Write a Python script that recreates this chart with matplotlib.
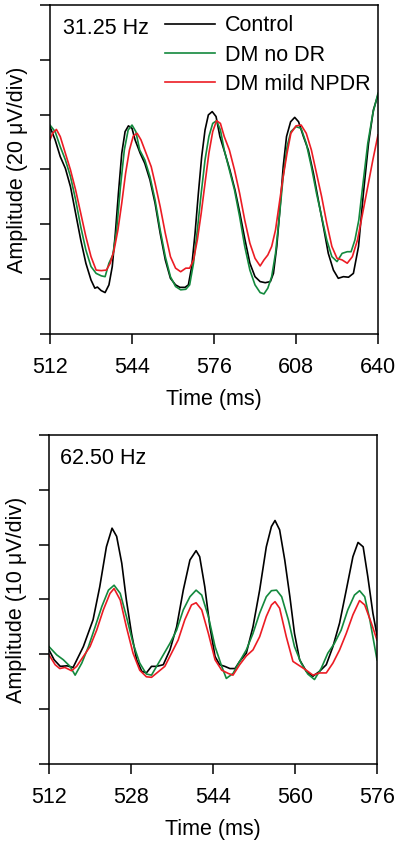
import matplotlib

matplotlib.use("Agg")
import matplotlib.pyplot as plt

plt.rcParams["font.family"] = ["Liberation Sans", "DejaVu Sans"]

BLACK = "#000000"
GREEN = "#13893d"
RED = "#ec1c24"
FS = 15.5

# ---------------- 31.25 Hz panel (uV) ----------------
t1_ctrl = [512, 514, 516, 518, 520, 522, 524, 526, 528, 529.5, 530.5, 532, 533.5, 535, 536.3, 537.5,
           538.7, 540, 541.3, 542.6, 544, 545.2, 547.2, 549, 551, 553, 555, 557, 559, 561, 562.7, 564.7,
           566, 567.3, 568.6, 569.9, 571.2, 572.5, 573.8, 575.3, 576.8, 578.3, 580.3, 582.2, 584.2, 586.1,
           588.1, 590, 592, 594, 596, 598, 599.2, 600.5, 601.8, 603, 604.3, 605.9, 607.5, 609, 610.9,
           612.8, 614.8, 616.7, 618.7, 620.6, 622.6, 624.5, 626.5, 628.5, 630.4, 632.4, 634.3, 636.3,
           638.2, 640]
v1_ctrl = [15.6, 10.8, 4.7, 0.4, -6.3, -16.0, -25.7, -34.2, -40.3, -43.3, -42.9, -44.2, -44.9, -42.1,
           -35.4, -23.3, -8.7, 5.9, 13.8, 15.9, 15.0, 10.8, 5.9, 2.2, -3.8, -12.3, -23.3, -33.0, -39.7,
           -42.1, -43.0, -43.0, -42.1, -35.4, -23.3, -8.7, 4.7, 14.4, 19.9, 21.1, 19.3, 12.0, 5.9, -0.2,
           -7.5, -16.0, -25.7, -34.2, -39.1, -40.9, -41.3, -40.9, -37.9, -28.1, -13.6, 1.0, 12.0, 17.4,
           19.0, 17.4, 12.0, 7.1, -1.4, -11.1, -20.9, -30.6, -36.7, -39.7, -39.1, -39.3, -37.9, -28.1,
           -8.7, 9.5, 21.7, 27.2]

t1_nodr = [512, 514, 516, 518, 520, 522, 524, 526, 528, 530, 532, 533.5, 535, 536.5, 538, 539.5, 541,
           542.5, 544, 545.5, 547, 549, 551, 553, 555, 557, 559, 561, 563, 565, 566.5, 568, 569.5, 571,
           572.5, 574, 575.5, 577, 578.5, 580, 582, 584, 586, 588, 590, 592, 594, 595.5, 597, 598.5,
           600, 601.5, 603, 604.5, 606, 608, 610, 612, 614, 616, 618, 620, 622, 624, 626, 628, 629.5,
           631, 632.5, 634, 636, 638, 640]
v1_nodr = [16.2, 13.8, 8.3, 3.5, -2.6, -11.1, -20.9, -29.4, -35.4, -37.9, -38.8, -39.1, -34.2, -31.2,
           -22.1, -6.3, 7.1, 14.4, 16.2, 13.8, 7.1, 3.5, -2.6, -11.1, -22.1, -31.8, -39.1, -42.7, -43.9,
           -43.7, -42.1, -34.2, -22.1, -8.7, 3.5, 12.0, 16.8, 17.8, 14.4, 7.1, -0.2, -7.5, -17.2, -28.1,
           -36.7, -42.1, -44.9, -45.4, -43.3, -39.1, -30.6, -17.2, -2.6, 8.3, 13.8, 15.6, 15.0, 9.5, 1.0,
           -8.7, -17.2, -25.7, -31.8, -33.6, -30.6, -30.0, -30.0, -25.7, -18.5, -6.3, 9.5, 20.5, 27.8]

t1_npdr = [512, 513, 514.5, 516, 518, 520, 522, 524, 526, 528, 530, 532, 534, 535.5, 537, 538.5, 540,
           541.5, 543, 544.5, 546, 547.5, 549.5, 551.5, 553, 555, 557, 559, 561, 563, 565, 566.5, 568,
           569.5, 571, 572.5, 574, 575.5, 577, 578.5, 580, 582, 584, 586, 588, 590, 592, 594, 595.5,
           597, 598.5, 600, 601.5, 603, 604.5, 606, 608, 610, 612, 614, 616, 618, 620, 622, 624, 626,
           628, 630, 632, 634, 636, 638, 640]
v1_npdr = [10.8, 13.2, 14.6, 12.0, 5.9, -0.2, -7.5, -16.0, -24.5, -31.8, -36.7, -36.9, -36.7, -34.2,
           -29.4, -22.1, -12.3, -1.4, 7.1, 12.2, 13.2, 10.8, 5.9, 1.0, -5.0, -13.6, -23.3, -31.8, -36.0,
           -37.3, -36.0, -36.0, -33.0, -25.7, -16.0, -5.0, 5.9, 13.8, 17.8, 16.8, 12.0, 7.1, -0.2, -8.7,
           -18.5, -26.9, -32.4, -35.2, -33.0, -31.2, -28.1, -22.1, -12.3, -2.6, 5.9, 13.2, 15.9, 16.2,
           13.2, 7.1, -1.4, -9.9, -19.6, -28.1, -32.4, -33.0, -34.2, -31.8, -25.7, -16.0, -6.3, 3.5, 12.6]

# ---------------- 62.50 Hz panel (uV) ----------------
t2_ctrl = [512, 513, 514.2, 515.5, 516.7, 518.7, 520.6, 521.9, 523.2, 524.3, 525.2, 526.2, 527.1, 528.1,
           529.1, 530.1, 531, 532, 533, 534.3, 535.6, 536.9, 538.2, 539.5, 540.7, 541.4, 542.4, 543.4,
           544.4, 545.3, 546.3, 547.3, 548.3, 549.2, 550.5, 551.8, 553.1, 554.4, 555.4, 556.1, 557, 558,
           559, 559.9, 560.9, 562.2, 563.5, 564.8, 566.1, 567.4, 568.7, 570, 571.3, 572.3, 573.3, 574.2,
           575.2, 576]
v2_ctrl = [-9.2, -11.0, -12.2, -12.1, -12.4, -8.6, -3.7, 2.3, 9.6, 13.0, 11.5, 6.6, -0.1, -6.2, -11.0,
           -13.1, -13.4, -12.2, -12.2, -11.9, -9.2, -5.0, 1.7, 7.2, 8.9, 7.8, 2.3, -5.0, -10.4, -11.9,
           -12.2, -12.6, -12.6, -11.3, -9.8, -5.0, 1.7, 9.6, 13.3, 14.4, 12.7, 7.2, 0.5, -6.2, -11.0,
           -13.1, -14.0, -13.1, -11.9, -8.6, -4.3, 1.7, 7.8, 10.4, 9.6, 4.2, -2.5, -6.5]

t2_nodr = [512, 513.5, 514.8, 516.1, 517.1, 518.4, 519.7, 521, 522.3, 523.6, 524.7, 525.9, 527.1, 528.4,
           529.7, 531, 532, 533, 534.3, 535.6, 536.9, 538.2, 539.5, 540.7, 541.8, 543.1, 544.4, 545.7,
           546.6, 547.9, 549.2, 550.5, 551.8, 553.1, 554.4, 555.4, 556.4, 557.4, 558.7, 559.9, 561.2,
           562.5, 563.8, 565.1, 566.4, 567.7, 569, 570.3, 571.6, 572.6, 573.6, 574.6, 576]
v2_nodr = [-8.6, -10.1, -11.0, -12.2, -13.8, -11.6, -8.6, -5.0, -1.3, 1.7, 2.6, 1.1, -3.1, -8.0, -11.6,
           -13.6, -13.8, -12.2, -10.1, -8.0, -5.6, -1.9, 0.5, 1.7, 0.8, -3.1, -8.6, -12.2, -14.4, -13.5,
           -11.3, -9.2, -6.2, -2.5, 0.5, 1.6, 1.7, 0.5, -3.7, -8.6, -11.6, -13.6, -14.6, -12.6, -9.8,
           -8.0, -5.6, -1.9, 0.8, 1.6, 0.5, -3.7, -11.0]

t2_npdr = [512, 513.2, 514.1, 515.1, 516.4, 517.4, 518.7, 520, 521.3, 522.6, 523.9, 524.7, 525.9, 527.1,
           528.4, 529.7, 531, 532, 533.3, 534.6, 535.9, 537.2, 538.5, 539.8, 540.7, 541.8, 543.1, 544.4,
           545.7, 547, 547.9, 549.2, 550.5, 551.8, 553.1, 554.4, 555.4, 556.1, 557, 558.3, 559.6, 560.9,
           562.2, 563.5, 564.8, 566.1, 567.4, 568.7, 570, 571.3, 572.6, 573.6, 574.9, 576]
v2_npdr = [-10.1, -11.9, -12.6, -12.4, -13.0, -12.2, -10.4, -8.6, -5.6, -1.9, 1.1, 2.0, -0.1, -5.0, -9.8,
           -12.9, -14.1, -14.2, -13.2, -12.2, -9.8, -7.4, -3.7, -1.0, -0.6, -1.9, -6.2, -11.0, -12.9,
           -13.5, -13.8, -11.9, -10.3, -9.2, -6.8, -3.1, -1.0, -0.4, -1.6, -6.8, -11.3, -12.1, -12.9,
           -13.8, -13.4, -13.4, -11.6, -9.2, -6.2, -2.8, -0.2, -1.0, -4.3, -7.4]

labels = ["Control", "DM no DR", "DM mild NPDR"]

fig = plt.figure(figsize=(4.0, 8.41), dpi=100, facecolor="white")
ax1 = fig.add_axes([0.125, 0.6029, 0.82, 0.3912])
ax2 = fig.add_axes([0.1225, 0.0916, 0.82, 0.3912])


def style(ax):
    for s in ax.spines.values():
        s.set_linewidth(1.1)
    ax.tick_params(direction="out", length=7, width=1.1, labelsize=FS, pad=9.5)
    ax.tick_params(axis="y", labelleft=False)
    ax.set_xlabel("Time (ms)", fontsize=FS, labelpad=8)


lw = 1.2
ax1.plot(t1_ctrl, v1_ctrl, color=BLACK, lw=lw, label=labels[0])
ax1.plot(t1_nodr, v1_nodr, color=GREEN, lw=lw, label=labels[1])
ax1.plot(t1_npdr, v1_npdr, color=RED, lw=lw, label=labels[2])
ax1.set_xlim(512, 640)
ax1.set_xticks([512, 544, 576, 608, 640])
ax1.set_ylim(-60, 60)
ax1.set_yticks(range(-60, 61, 20))
ax1.set_ylabel("Amplitude (20 \u03bcV/div)", fontsize=FS, labelpad=9)
style(ax1)
ax1.text(0.04, 0.96, "31.25 Hz", transform=ax1.transAxes, fontsize=FS, va="top", ha="left")
ax1.legend(loc="upper left", bbox_to_anchor=(0.35, 0.968), frameon=False, fontsize=FS,
           handlelength=2.35, handletextpad=0.45, labelspacing=0.38, borderpad=0, borderaxespad=0)

ax2.plot(t2_ctrl, v2_ctrl, color=BLACK, lw=lw)
ax2.plot(t2_nodr, v2_nodr, color=GREEN, lw=lw)
ax2.plot(t2_npdr, v2_npdr, color=RED, lw=lw)
ax2.set_xlim(512, 576)
ax2.set_xticks([512, 528, 544, 560, 576])
ax2.set_ylim(-30, 30)
ax2.set_yticks(range(-30, 31, 10))
ax2.set_ylabel("Amplitude (10 \u03bcV/div)", fontsize=FS, labelpad=9)
style(ax2)
ax2.text(0.035, 0.96, "62.50 Hz", transform=ax2.transAxes, fontsize=FS, va="top", ha="left")

fig.savefig("out.png", dpi=100, facecolor="white")
